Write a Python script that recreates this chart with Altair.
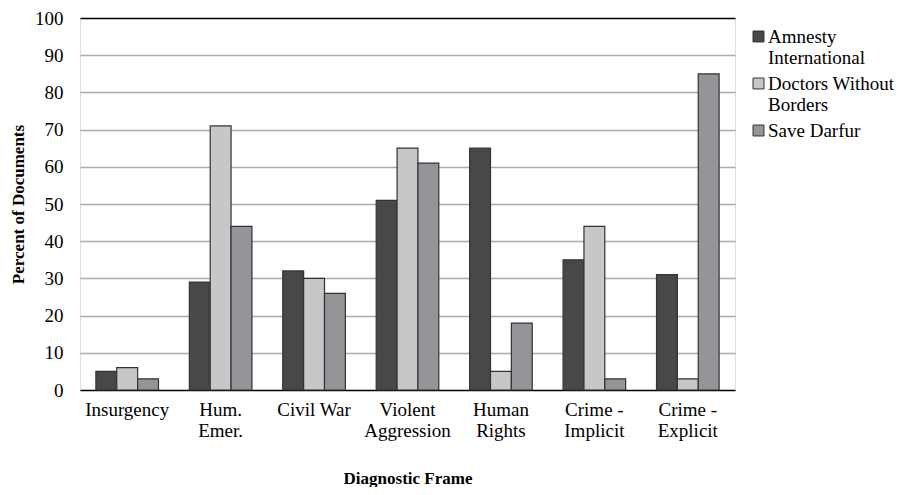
import altair as alt
import pandas as pd

categories = ["Insurgency", "Hum.\nEmer.", "Civil War", "Violent\nAggression",
              "Human\nRights", "Crime -\nImplicit", "Crime -\nExplicit"]
series = ["Amnesty\nInternational", "Doctors Without\nBorders", "Save Darfur"]
amnesty = [5, 29, 32, 51, 65, 35, 31]
doctors = [6, 71, 30, 65, 5, 44, 3]
darfur = [3, 44, 26, 61, 18, 3, 85]
colors = ["#47484a", "#c6c7c9", "#949598"]

rows = []
for vals, s in zip([amnesty, doctors, darfur], series):
    for c, v in zip(categories, vals):
        rows.append({"cat": c, "series": s, "value": v})
df = pd.DataFrame(rows)

font = "Liberation Serif"

chart = alt.Chart(df).mark_bar(stroke="#333333", strokeWidth=1.2).encode(
    x=alt.X("cat:N", sort=categories,
            scale=alt.Scale(paddingInner=0.33, paddingOuter=0.17),
            axis=alt.Axis(title="Diagnostic Frame", labelAngle=0,
                          labelExpr="split(datum.label, '\\n')",
                          labelFontSize=19, labelColor="black", labelFont=font,
                          labelPadding=10, labelLineHeight=21,
                          titleFont=font, titleFontSize=17, titleFontWeight="bold",
                          titleColor="black", titlePadding=30,
                          ticks=False, domain=False, grid=False)),
    xOffset=alt.XOffset("series:N", sort=series),
    y=alt.Y("value:Q", scale=alt.Scale(domain=[0, 100]),
            axis=alt.Axis(title="Percent of Documents", values=list(range(0, 101, 10)),
                          labelFontSize=19, labelColor="black", labelFont=font,
                          labelPadding=17, titleFont=font, titleFontSize=17,
                          titleFontWeight="bold", titleColor="black", titlePadding=7,
                          ticks=False, domain=False,
                          gridColor={"condition": {"test": "datum.value === 100 || datum.value === 0",
                                                   "value": "black"},
                                     "value": "#aaaaaa"},
                          gridWidth=1.5)),
    color=alt.Color("series:N", sort=series,
                    scale=alt.Scale(domain=series, range=colors),
                    legend=alt.Legend(title=None, orient="none", legendX=669, legendY=9,
                                      labelExpr="split(datum.label, '\\n')",
                                      labelFont=font, labelFontSize=19,
                                      labelColor="black",
                                      labelBaseline="middle",
                                      symbolType="square", symbolSize=120,
                                      symbolStrokeColor="#333333", symbolStrokeWidth=1,
                                      symbolOffset=0, labelOffset=0,
                                      rowPadding=6, labelLimit=300)),
).properties(
    width=655, height=372,
    autosize=alt.AutoSizeParams(type="none"),
    padding={"left": 72, "top": 10, "right": 160, "bottom": 97},
).configure_view(stroke="black", strokeWidth=1.5).configure(background="white")

chart.save("out.html", embed_options={"renderer": "svg", "actions": False})
